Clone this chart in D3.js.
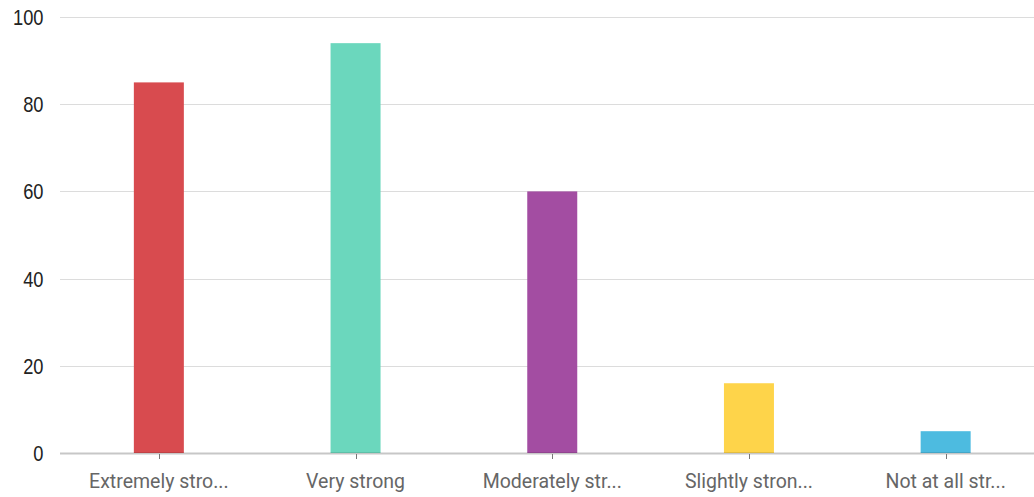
<!DOCTYPE html>
<html><head><meta charset="utf-8">
<script src="https://cdn.jsdelivr.net/npm/d3@7"></script>
<style>
html,body{margin:0;padding:0;background:#fff;overflow:hidden;}
svg{display:block;}
.ylab{font-family:"Liberation Sans",Arial,sans-serif;}
.xlab{font-family:Roboto,"Liberation Sans",Arial,sans-serif;}
</style></head>
<body>
<svg id="chart" width="1034" height="497"></svg>
<script>
const categories = ["Extremely stro...", "Very strong", "Moderately str...", "Slightly stron...", "Not at all str..."];
const values = [85, 94, 60, 16, 5];
const colors = ["#D84B4F", "#6BD7BD", "#A34DA2", "#FED44A", "#4DBBE0"];
const yTicks = [0, 20, 40, 60, 80, 100];

(function () {
const svg = d3.select("#chart");
const mLeft = 60, mRight = 1044, mTop = 17, mBottom = 453;

const x = d3.scaleBand().domain(categories).range([mLeft + 0.5, mRight]).paddingInner(0).paddingOuter(0);
const y = d3.scaleLinear().domain([0, 100]).range([mBottom, mTop]);

// gridlines
svg.append("g").selectAll("line").data(yTicks.filter(d => d > 0)).join("line")
  .attr("x1", mLeft).attr("x2", 1034)
  .attr("y1", d => Math.round(y(d)) + 0.5).attr("y2", d => Math.round(y(d)) + 0.5)
  .attr("stroke", "#dcdcdc").attr("stroke-width", 1);

// y labels (condensed look)
svg.append("g").selectAll("text").data(yTicks).join("text")
  .attr("class", "ylab")
  .attr("transform", d => `translate(43.5,${y(d)}) scale(0.83,1)`)
  .attr("dy", "0.36em")
  .attr("text-anchor", "end")
  .attr("font-size", 22)
  .attr("fill", "#222")
  .text(d => d);

// bars
const bw = 50;
svg.append("g").selectAll("rect").data(values).join("rect")
  .attr("x", (d, i) => x(categories[i]) + x.bandwidth() / 2 - bw / 2)
  .attr("width", bw)
  .attr("y", d => y(d))
  .attr("height", d => y(0) - y(d))
  .attr("fill", (d, i) => colors[i]);

// baseline (semi-transparent so it darkens bars)
svg.append("line")
  .attr("x1", mLeft).attr("x2", 1034)
  .attr("y1", mBottom + 0.5).attr("y2", mBottom + 0.5)
  .attr("stroke", "rgba(0,0,0,0.22)").attr("stroke-width", 2);

// x ticks
svg.append("g").selectAll("line").data(categories).join("line")
  .attr("x1", d => Math.round(x(d) + x.bandwidth() / 2) + 0.5)
  .attr("x2", d => Math.round(x(d) + x.bandwidth() / 2) + 0.5)
  .attr("y1", mBottom + 1).attr("y2", mBottom + 6)
  .attr("stroke", "#777").attr("stroke-width", 1);

// x labels
svg.append("g").selectAll("text").data(categories).join("text")
  .attr("class", "xlab")
  .attr("x", d => x(d) + x.bandwidth() / 2)
  .attr("y", 488)
  .attr("text-anchor", "middle")
  .attr("font-size", 19.5)
  .attr("fill", "#666")
  .text(d => d);
})();
</script>
</body></html>
